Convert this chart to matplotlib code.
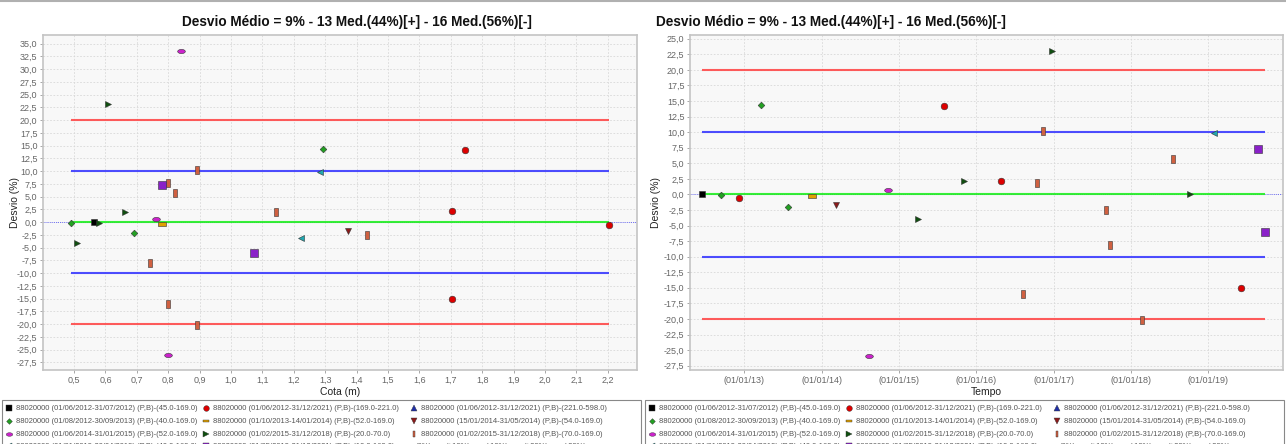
import numpy as np
import matplotlib
matplotlib.use("Agg")
import matplotlib.pyplot as plt
import matplotlib.dates as mdates
from matplotlib import font_manager
from matplotlib.lines import Line2D
from matplotlib.patches import Rectangle
from matplotlib.ticker import FuncFormatter, MultipleLocator
import datetime as dt


def pick(fams):
    for f in fams:
        try:
            font_manager.findfont(f, fallback_to_default=False)
            return f
        except Exception:
            pass
    return "DejaVu Sans"


NARROW = pick(["Liberation Sans Narrow", "Liberation Sans", "DejaVu Sans"])
plt.rcParams["font.family"] = [NARROW, "DejaVu Sans"]

# ---------------- data ----------------
title = "Desvio Médio = 9% - 13 Med.(44%)[+] - 16 Med.(56%)[-]"
station = "88020000"
series_names = [
    "(01/06/2012-31/07/2012) (P,B)-(45.0-169.0)",
    "(01/06/2012-31/12/2021) (P,B)-(169.0-221.0)",
    "(01/06/2012-31/12/2021) (P,B)-(221.0-598.0)",
    "(01/08/2012-30/09/2013) (P,B)-(40.0-169.0)",
    "(01/10/2013-14/01/2014) (P,B)-(52.0-169.0)",
    "(15/01/2014-31/05/2014) (P,B)-(54.0-169.0)",
    "(01/06/2014-31/01/2015) (P,B)-(52.0-169.0)",
    "(01/02/2015-31/12/2018) (P,B)-(20.0-70.0)",
    "(01/02/2015-31/12/2018) (P,B)-(70.0-169.0)",
    "(01/01/2019-30/04/2019) (P,B)-(40.0-169.0)",
    "(01/05/2019-31/12/2021) (P,B)-(10.0-169.0)",
]

# left panel: cota (m) vs desvio (%)
cota_s0 = [0.562];                      desv_c_s0 = [0.0]
cota_s1 = [1.744, 1.703, 2.205, 1.703]; desv_c_s1 = [14.2, 2.2, -0.65, -15.0]
cota_s2 = [];                           desv_c_s2 = []
cota_s3 = [0.490, 1.292, 0.692];        desv_c_s3 = [-0.1, 14.3, -2.15]
cota_s4 = [0.781];                      desv_c_s4 = [-0.3]
cota_s5 = [1.374];                      desv_c_s5 = [-1.8]
cota_s6 = [0.841, 0.761, 0.800];        desv_c_s6 = [33.5, 0.6, -26.0]
cota_s7 = [0.609, 0.662, 0.580, 0.510]; desv_c_s7 = [23.1, 2.0, -0.1, -4.0]
cota_s8 = [0.892, 0.800, 0.822, 1.143, 1.432, 0.741, 0.800, 0.892]
desv_c_s8 = [10.2, 7.6, 5.7, 1.9, -2.6, -8.1, -16.0, -20.1]
cota_s9 = [1.283, 1.223];               desv_c_s9 = [9.8, -3.1]
cota_s10 = [0.781, 1.072];              desv_c_s10 = [7.3, -6.1]

# right panel: date vs desvio (%)
date_s0 = ["2012-06-15"];               desv_t_s0 = [0.0]
date_s1 = ["2015-07-31", "2016-04-27", "2012-12-08", "2019-06-03"]
desv_t_s1 = [14.2, 2.2, -0.6, -15.0]
date_s2 = [];                           desv_t_s2 = []
date_s3 = ["2012-09-15", "2013-03-20", "2013-07-25"]; desv_t_s3 = [-0.1, 14.3, -2.1]
date_s4 = ["2013-11-17"];               desv_t_s4 = [-0.2]
date_s5 = ["2014-03-10"];               desv_t_s5 = [-1.7]
date_s6 = ["2014-08-14", "2014-11-13"]; desv_t_s6 = [-25.9, 0.65]
date_s7 = ["2016-12-24", "2015-11-05", "2018-10-08", "2015-04-01"]
desv_t_s7 = [23.1, 2.1, 0.0, -3.9]
date_s8 = ["2016-11-13", "2016-10-15", "2016-08-07", "2017-09-05", "2017-09-23",
           "2018-02-20", "2018-07-19"]
desv_t_s8 = [10.2, 1.9, -16.0, -2.5, -8.1, -20.1, 5.7]
date_s9 = ["2019-01-30"];               desv_t_s9 = [9.8]
date_s10 = ["2019-08-25", "2019-09-27"]; desv_t_s10 = [7.3, -6.0]

ref_levels = [0, 10, -10, 20, -20]
ref_labels = ["(0%)", "(+10%)", "(-10%)", "(+20%)", "(-20%)"]

cotas = [cota_s0, cota_s1, cota_s2, cota_s3, cota_s4, cota_s5, cota_s6, cota_s7,
         cota_s8, cota_s9, cota_s10]
desv_c = [desv_c_s0, desv_c_s1, desv_c_s2, desv_c_s3, desv_c_s4, desv_c_s5,
          desv_c_s6, desv_c_s7, desv_c_s8, desv_c_s9, desv_c_s10]
dates = [date_s0, date_s1, date_s2, date_s3, date_s4, date_s5, date_s6, date_s7,
         date_s8, date_s9, date_s10]
desv_t = [desv_t_s0, desv_t_s1, desv_t_s2, desv_t_s3, desv_t_s4, desv_t_s5,
          desv_t_s6, desv_t_s7, desv_t_s8, desv_t_s9, desv_t_s10]

# ---------------- styles ----------------
hrect = [(-1, -0.45), (1, -0.45), (1, 0.45), (-1, 0.45), (-1, -0.45)]
vrect = [(-0.45, -1), (0.45, -1), (0.45, 1), (-0.45, 1), (-0.45, -1)]
th = np.linspace(0, 2 * np.pi, 30)
hell = list(zip(np.cos(th), 0.55 * np.sin(th)))

styles = [
    dict(marker="s", color="#000000", ms=4.5),
    dict(marker="o", color="#dd0000", ms=4.8),
    dict(marker="^", color="#1f2fa8", ms=4.5),
    dict(marker="D", color="#22a022", ms=3.4),
    dict(marker=hrect, color="#e0a000", ms=5.5),
    dict(marker="v", color="#8b1a1a", ms=4.5),
    dict(marker=hell, color="#cc22cc", ms=5.5),
    dict(marker=">", color="#0f4f0f", ms=4.5),
    dict(marker=vrect, color="#d06040", ms=5.5),
    dict(marker="<", color="#20a8b0", ms=4.5),
    dict(marker="s", color="#8a20c8", ms=5.5),
]
ref_colors = ["#22ee22", "#3a3aff", "#3a3aff", "#ff4a4a", "#ff4a4a"]

W, H = 1286, 444
fig = plt.figure(figsize=(W / 100, H / 100), dpi=100)
fig.patch.set_facecolor("white")

TICK_C = "#666666"


def fmt_comma(v, pos=None):
    return ("%.1f" % v).replace(".", ",")


def style_axes(ax):
    ax.set_facecolor("#f8f8f8")
    for sp in ax.spines.values():
        sp.set_color("#c4c4c4")
        sp.set_linewidth(1.2)
    ax.grid(True, color="#d8d8d8", linestyle=(0, (2, 2)), linewidth=0.6)
    ax.set_axisbelow(True)
    ax.tick_params(axis="both", colors="#999999", labelcolor=TICK_C,
                   labelsize=6.5, length=2, width=0.6, pad=2)
    ax.yaxis.set_major_locator(MultipleLocator(2.5))
    ax.yaxis.set_major_formatter(FuncFormatter(fmt_comma))


# ---------------- left panel ----------------
axL = fig.add_axes([43 / W, 1 - 370 / H, 594 / W, 335 / H])
style_axes(axL)
axL.set_xlim(0.401, 2.293)
axL.set_ylim(-29.0, 36.7)
axL.set_xticks(np.round(np.arange(0.5, 2.201, 0.1), 1))
axL.xaxis.set_major_formatter(FuncFormatter(fmt_comma))
axL.axhline(0, color="#4444ff", lw=0.6, ls=(0, (1, 1.5)), zorder=1)
allc = [c for s in cotas for c in s]
for lev, col in zip(ref_levels, ref_colors):
    axL.hlines(lev, min(allc), max(allc), color=col, lw=1.5, alpha=0.9, zorder=2)
for xs, ys, st in zip(cotas, desv_c, styles):
    if xs:
        axL.plot(xs, ys, ls="none", marker=st["marker"], ms=st["ms"],
                 mfc=st["color"], mec="#333333", mew=0.4, zorder=3, clip_on=False)
axL.set_xlabel("Cota (m)", fontsize=7.5, color="#222222", labelpad=2)

# ---------------- right panel ----------------
axR = fig.add_axes([690 / W, 1 - 370 / H, 593 / W, 335 / H])
style_axes(axR)
axR.set_xlim(dt.datetime(2012, 4, 20), dt.datetime(2019, 12, 20))
axR.set_ylim(-28.2, 25.6)
axR.xaxis.set_major_locator(mdates.YearLocator(month=1, day=1))
axR.xaxis.set_major_formatter(mdates.DateFormatter("(%d/%m/%y)"))
axR.axhline(0, color="#4444ff", lw=0.6, ls=(0, (1, 1.5)), zorder=1)
alld = [dt.datetime.strptime(d, "%Y-%m-%d") for s in dates for d in s]
for lev, col in zip(ref_levels, ref_colors):
    axR.hlines(lev, min(alld), max(alld), color=col, lw=1.5, alpha=0.9, zorder=2)
for ds, ys, st in zip(dates, desv_t, styles):
    if ds:
        xs = [dt.datetime.strptime(d, "%Y-%m-%d") for d in ds]
        axR.plot(xs, ys, ls="none", marker=st["marker"], ms=st["ms"],
                 mfc=st["color"], mec="#333333", mew=0.4, zorder=3)
axR.set_xlabel("Tempo", fontsize=7.5, color="#222222", labelpad=2)

# titles and y labels
fig.text(357 / W, 1 - 22 / H, title, ha="center", va="center",
         fontsize=9.8, fontweight="bold", color="#111111")
fig.text(831 / W, 1 - 22 / H, title, ha="center", va="center",
         fontsize=9.8, fontweight="bold", color="#111111")
for xl in (15, 656):
    fig.text(xl / W, 1 - 202 / H, "Desvio (%)", rotation=90, ha="center",
             va="center", fontsize=7.5, color="#222222")

# top border line
fig.add_artist(Line2D([0, 1], [1 - 1.5 / H, 1 - 1.5 / H], transform=fig.transFigure,
                      color="#b0b0b0", lw=1.5))

# ---------------- legends ----------------
row_y = [408, 421, 434, 446]
col_x = [7, 204, 412]
LEG_C = "#555555"
for x0, x1 in ((2, 641), (645, 1284)):
    fig.add_artist(Rectangle((x0 / W, -0.05), (x1 - x0) / W, 0.05 + (1 - 400 / H),
                             transform=fig.transFigure, fill=False,
                             edgecolor="#888888", lw=0.8))
    for i, (name, st) in enumerate(zip(series_names, styles)):
        r, c = divmod(i, 3)
        mx = (x0 + col_x[c]) / W
        my = 1 - row_y[r] / H
        fig.add_artist(Line2D([mx], [my], transform=fig.transFigure, ls="none",
                              marker=st["marker"], ms=st["ms"] * 0.85,
                              mfc=st["color"], mec="#333333", mew=0.3))
        fig.text(mx + 7 / W, my, station + " " + name, ha="left", va="center",
                 fontsize=5.5, color=LEG_C)
    lx = [403, 433, 473, 511, 551]
    for lab, col, xx in zip(ref_labels, ref_colors, lx):
        my = 1 - row_y[3] / H
        fig.add_artist(Rectangle(((x0 + xx) / W, my - 2.5 / H), 9 / W, 5 / H,
                                 transform=fig.transFigure, facecolor=col,
                                 edgecolor="#555555", lw=0.4))
        fig.text((x0 + xx + 11) / W, my, lab, ha="left", va="center",
                 fontsize=5.5, color=LEG_C)

fig.savefig("out.png", dpi=100)
